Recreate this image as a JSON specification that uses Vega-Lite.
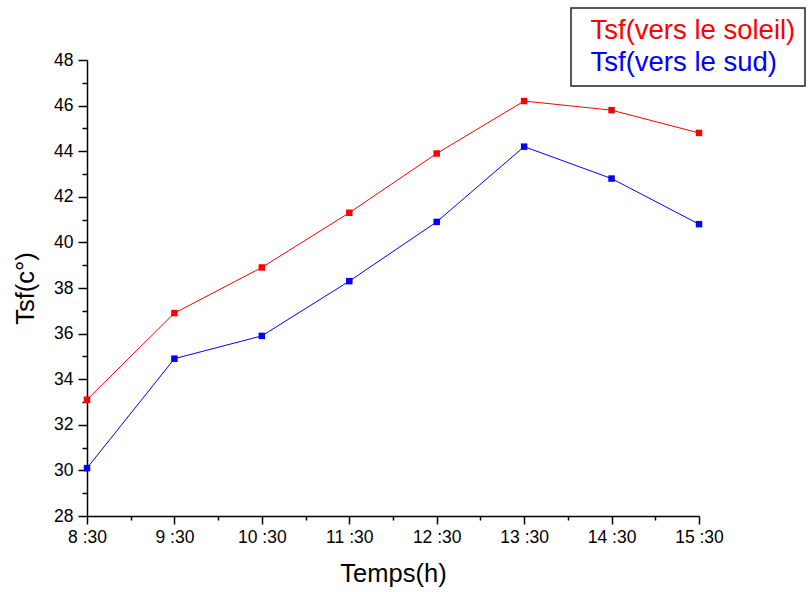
{
  "$schema": "https://vega.github.io/schema/vega-lite/v6.json",
  "autosize": "none",
  "width": 612,
  "height": 456,
  "padding": {"left": 87, "top": 60, "right": 110, "bottom": 76},
  "background": "white",
  "config": {
    "view": {"stroke": null},
    "font": "Liberation Sans",
    "axis": {"grid": false, "domainColor": "black", "tickColor": "black", "labelColor": "black", "titleColor": "black", "domainWidth": 1.5, "tickWidth": 1.5, "labelFont": "Liberation Sans", "titleFont": "Liberation Sans", "labelFontSize": 17.5, "titleFontSize": 25.5, "titleFontWeight": "normal"}
  },
  "data": {
    "values": [
      {"heure": 8.5, "serie": "Tsf(vers le soleil)", "tsf": 33.1},
      {"heure": 9.5, "serie": "Tsf(vers le soleil)", "tsf": 36.9},
      {"heure": 10.5, "serie": "Tsf(vers le soleil)", "tsf": 38.9},
      {"heure": 11.5, "serie": "Tsf(vers le soleil)", "tsf": 41.3},
      {"heure": 12.5, "serie": "Tsf(vers le soleil)", "tsf": 43.9},
      {"heure": 13.5, "serie": "Tsf(vers le soleil)", "tsf": 46.2},
      {"heure": 14.5, "serie": "Tsf(vers le soleil)", "tsf": 45.8},
      {"heure": 15.5, "serie": "Tsf(vers le soleil)", "tsf": 44.8},
      {"heure": 8.5, "serie": "Tsf(vers le sud)", "tsf": 30.1},
      {"heure": 9.5, "serie": "Tsf(vers le sud)", "tsf": 34.9},
      {"heure": 10.5, "serie": "Tsf(vers le sud)", "tsf": 35.9},
      {"heure": 11.5, "serie": "Tsf(vers le sud)", "tsf": 38.3},
      {"heure": 12.5, "serie": "Tsf(vers le sud)", "tsf": 40.9},
      {"heure": 13.5, "serie": "Tsf(vers le sud)", "tsf": 44.2},
      {"heure": 14.5, "serie": "Tsf(vers le sud)", "tsf": 42.8},
      {"heure": 15.5, "serie": "Tsf(vers le sud)", "tsf": 40.8}
    ]
  },
  "encoding": {
    "x": {
      "field": "heure", "type": "quantitative",
      "scale": {"domain": [8.5, 15.5], "nice": false, "zero": false},
      "axis": {
        "title": "Temps(h)",
        "values": [8.5, 9, 9.5, 10, 10.5, 11, 11.5, 12, 12.5, 13, 13.5, 14, 14.5, 15, 15.5],
        "labelExpr": "datum.value % 1 === 0.5 ? floor(datum.value) + ' :30' : ''",
        "tickSize": {"condition": {"test": "datum.value % 1 === 0.5", "value": 8}, "value": 4},
        "labelPadding": 4,
        "titlePadding": 16,
        "labelFlush": false
      }
    },
    "y": {
      "field": "tsf", "type": "quantitative",
      "scale": {"domain": [28, 48], "nice": false, "zero": false},
      "axis": {
        "title": "Tsf(c°)",
        "values": [28, 29, 30, 31, 32, 33, 34, 35, 36, 37, 38, 39, 40, 41, 42, 43, 44, 45, 46, 47, 48],
        "labelExpr": "datum.value % 2 === 0 ? datum.value : ''",
        "tickSize": {"condition": {"test": "datum.value % 2 === 0", "value": 9}, "value": 5},
        "labelPadding": 5,
        "titlePadding": 15
      }
    },
    "color": {
      "field": "serie", "type": "nominal",
      "scale": {"domain": ["Tsf(vers le soleil)", "Tsf(vers le sud)"], "range": ["#ff0000", "#0000ff"]},
      "legend": {
        "title": null,
        "orient": "none",
        "legendX": 484,
        "legendY": -52,
        "strokeColor": "#222222",
        "fillColor": "white",
        "padding": 9,
        "symbolSize": 0,
        "symbolOpacity": 0,
        "symbolStrokeWidth": 0,
        "labelOffset": -17,
        "labelFontSize": 27.5,
        "labelFont": "Liberation Sans",
        "rowPadding": 3,
        "labelLimit": 400,
        "encode": {
          "labels": {"update": {"fill": {"signal": "datum.value === 'Tsf(vers le soleil)' ? '#ff0000' : '#0000ff'"}}},
          "legend": {"update": {"strokeWidth": {"value": 1.5}}}
        }
      }
    }
  },
  "layer": [
    {"mark": {"type": "line", "strokeWidth": 1}},
    {"mark": {"type": "point", "shape": "square", "filled": true, "size": 42, "opacity": 1}}
  ]
}
